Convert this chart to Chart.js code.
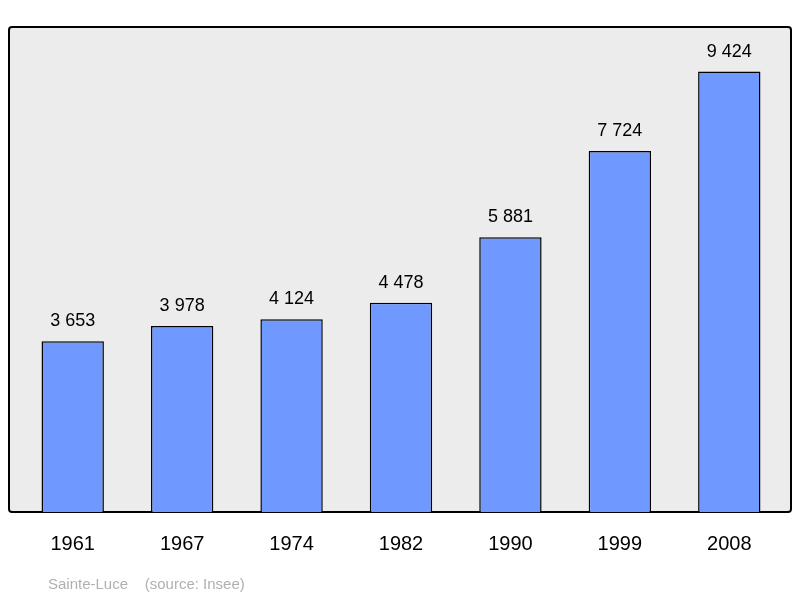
<!DOCTYPE html>
<html>
<head>
<meta charset="utf-8">
<script src="https://cdn.jsdelivr.net/npm/chart.js@4"></script>
<style>
  body { margin: 0; background: #fff; }
</style>
</head>
<body>
<canvas id="popChart" width="800" height="598"></canvas>
<script>
var years = ['1961', '1967', '1974', '1982', '1990', '1999', '2008'];
var population = [3653, 3978, 4124, 4478, 5881, 7724, 9424];

function fmt(n) {
    return String(n).replace(/\B(?=(\d{3})+(?!\d))/g, ' ');
}

var framePlugin = {
    id: 'frame',
    beforeDatasetsDraw: function(chart) {
        var a = chart.chartArea, c = chart.ctx;
        c.save();
        c.fillStyle = '#ececec';
        c.strokeStyle = '#000';
        c.lineWidth = 2;
        c.beginPath();
        c.roundRect(9, a.top, 782, a.bottom - a.top, 3);
        c.fill();
        c.stroke();
        c.restore();
    },
    afterDatasetsDraw: function(chart) {
        var c = chart.ctx;
        var meta = chart.getDatasetMeta(0);
        c.save();
        c.fillStyle = '#000';
        c.font = '18px "Liberation Sans", Arial, sans-serif';
        c.textAlign = 'center';
        c.textBaseline = 'alphabetic';
        meta.data.forEach(function(bar, i) {
            c.fillText(fmt(population[i]), bar.x, bar.y - 15);
        });
        c.fillStyle = '#b0b0b0';
        c.font = '15px "Liberation Sans", Arial, sans-serif';
        c.textAlign = 'left';
        c.fillText('Sainte-Luce    (source: Insee)', 48, 589);
        c.restore();
    }
};

var ctx = document.getElementById('popChart').getContext('2d');
var chart = new Chart(ctx, {
    type: 'bar',
    data: {
        labels: years,
        datasets: [{
            data: population,
            backgroundColor: '#7099ff',
            borderColor: '#000',
            borderWidth: 1.5,
            barPercentage: 0.57,
            categoryPercentage: 1
        }]
    },
    options: {
        responsive: false,
        animation: false,
        devicePixelRatio: 1,
        layout: { padding: { top: 27, left: 18, right: 16, bottom: 30 } },
        scales: {
            y: { display: false, min: 0, max: 10377 },
            x: {
                grid: { display: false },
                border: { display: false },
                ticks: {
                    color: '#000',
                    padding: 12,
                    autoSkip: false,
                    maxRotation: 0,
                    font: { size: 20, family: '"Liberation Sans", Arial, sans-serif' }
                }
            }
        },
        plugins: {
            legend: { display: false },
            tooltip: { enabled: false }
        }
    },
    plugins: [framePlugin]
});
</script>
</body>
</html>
